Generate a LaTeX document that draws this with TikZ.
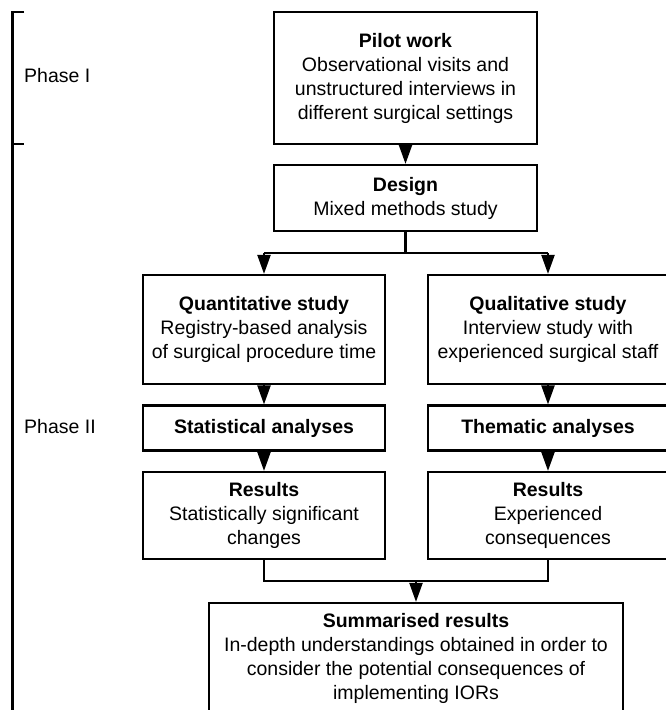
\documentclass[tikz,border=0pt]{standalone}
\usepackage{fontspec}
\setmainfont{Liberation Sans}
\usetikzlibrary{arrows.meta}
\begin{document}
\begin{tikzpicture}[x=1pt,y=-1pt,
  box/.style={draw=black,line width=2.2pt,rectangle,align=center,inner sep=0pt,
    font=\fontsize{19.5}{24}\selectfont},
  conn/.style={line width=2.2pt,draw=black},
  arr/.style={conn,-{Triangle[length=19pt,width=13pt]}},
  phase/.style={anchor=west,inner sep=0pt,font=\fontsize{19.5}{24}\selectfont}]
\useasboundingbox (0,0) rectangle (666,710);
\node[box,minimum width=263pt,minimum height=132pt] (pilot) at (405.5,78)
  {\textbf{Pilot work}\\Observational visits and\\unstructured interviews in\\different surgical settings};
\node[box,minimum width=263pt,minimum height=66pt] (design) at (405.5,198)
  {\textbf{Design}\\Mixed methods study};
\node[box,minimum width=242pt,minimum height=109pt] (quant) at (264,329.5)
  {\textbf{Quantitative study}\\Registry-based analysis\\of surgical procedure time};
\node[box,minimum width=240pt,minimum height=109pt] (qual) at (548,329.5)
  {\textbf{Qualitative study}\\Interview study with\\experienced surgical staff};
\node[box,minimum width=242pt,minimum height=45pt] (stat) at (264,428)
  {\textbf{Statistical analyses}};
\node[box,minimum width=240pt,minimum height=45pt] (them) at (548,428)
  {\textbf{Thematic analyses}};
\node[box,minimum width=242pt,minimum height=87pt] (resl) at (264,515.5)
  {\textbf{Results}\\Statistically significant\\changes};
\node[box,minimum width=240pt,minimum height=87pt] (resr) at (548,515.5)
  {\textbf{Results}\\Experienced\\consequences};
\node[box,minimum width=414pt,minimum height=110pt] (sum) at (416,658)
  {\textbf{Summarised results}\\In-depth understandings obtained in order to\\consider the potential consequences of\\implementing IORs};
% connectors
\draw[arr] (pilot.south) -- (design.north);
\coordinate (split) at (design.south |- 0,253);
\coordinate (splitl) at (quant.north |- split);
\coordinate (splitr) at (qual.north |- split);
\draw[conn] (design.south) -- (split);
\draw[conn] (splitl) -- (splitr);
\draw[arr] (splitl) -- (quant.north);
\draw[arr] (splitr) -- (qual.north);
\draw[arr] (quant.south) -- (stat.north);
\draw[arr] (qual.south) -- (them.north);
\draw[arr] (stat.south) -- (resl.north);
\draw[arr] (them.south) -- (resr.north);
\coordinate (joinl) at (resl.south |- 0,581);
\coordinate (joinr) at (resr.south |- 0,581);
\coordinate (join) at (sum.north |- 0,581);
\draw[conn] (resl.south) -- (joinl) -- (joinr) -- (resr.south);
\draw[arr] (join) -- (sum.north);
% phase bracket
\coordinate (b1) at (24,12);
\coordinate (b2) at (12.5,12);
\coordinate (b3) at (12.5,144);
\coordinate (b4) at (24,144);
\coordinate (b5) at (12.5,712);
\draw[conn,line cap=butt] (b1) -- (b2) -- (b5);
\draw[conn] (b3) -- (b4);
\node[phase] (ph1) at (24,76) {Phase I};
\node[phase] (ph2) at (24,427) {Phase II};
\end{tikzpicture}
\end{document}
